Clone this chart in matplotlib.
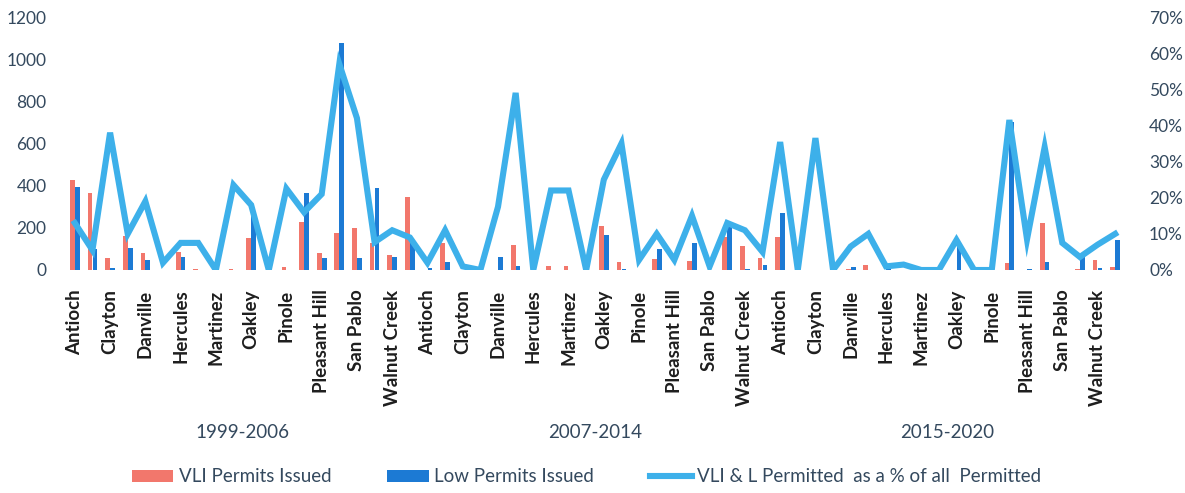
import numpy as np
import matplotlib
matplotlib.use("Agg")
import matplotlib.pyplot as plt
import matplotlib.transforms as mtransforms
from matplotlib.patches import Patch
from matplotlib.lines import Line2D

plt.rcParams['font.family'] = ['Lato', 'DejaVu Sans']

cities = ["Antioch", "Brentwood", "Clayton", "Concord", "Danville", "El Cerrito",
          "Hercules", "Lafayette", "Martinez", "Moraga", "Oakley", "Orinda",
          "Pinole", "Pittsburg", "Pleasant Hill", "Richmond", "San Pablo",
          "San Ramon", "Walnut Creek", "Unincorporated"]
periods = ["1999-2006", "2007-2014", "2015-2020"]

vli_1999 = [427, 365, 57, 161, 80, 0, 85, 5, 0, 5, 152, 0, 15, 228, 80, 175, 200, 128, 71, 346]
low_1999 = [394, 100, 8, 104, 47, 0, 62, 0, 0, 0, 270, 0, 0, 365, 57, 1077, 57, 389, 62, 130]
pct_1999 = [13, 5.5, 38, 10, 19, 2, 7.5, 7.5, 0, 23.5, 18, 0, 22.5, 16, 21, 57, 42, 7.7, 11, 9]

vli_2007 = [0, 128, 0, 0, 0, 119, 0, 18, 18, 0, 211, 38, 0, 52, 0, 43, 0, 155, 114, 55]
low_2007 = [8, 38, 0, 0, 62, 18, 0, 0, 0, 0, 166, 5, 0, 100, 0, 128, 0, 204, 5, 24]
pct_2007 = [2, 11, 1, 0, 17.5, 49, 0, 22, 22, 0, 25, 35, 2.8, 10, 2.8, 15, 1, 13, 11, 5]

vli_2015 = [157, 0, 0, 0, 5, 25, 0, 0, 0, 0, 0, 0, 0, 35, 0, 223, 0, 5, 47, 16]
low_2015 = [270, 0, 0, 0, 15, 0, 5, 0, 0, 0, 120, 0, 0, 700, 5, 38, 0, 65, 10, 142]
pct_2015 = [35.4, 0, 36.5, 0, 6.5, 10, 1, 1.5, 0, 0, 8.3, 0, 0, 41.5, 8.5, 34, 7.5, 3.6, 7, 10]

vli = vli_1999 + vli_2007 + vli_2015
low = low_1999 + low_2007 + low_2015
pct = [p / 100 for p in pct_1999 + pct_2007 + pct_2015]
labels = cities * len(periods)

RED = '#F2776C'
BLUE = '#1C7AD4'
LINE = '#3DB0EA'
TXT = '#34495E'

fig = plt.figure(figsize=(11.85, 4.93), dpi=100)
ax = fig.add_axes([66 / 1185, 1 - 270 / 493, (1124 - 66) / 1185, (270 - 17) / 493])
ax2 = ax.twinx()

x = np.arange(len(labels))
w = 0.27
ax.bar(x - 0.14, vli, width=w, color=RED, zorder=2)
ax.bar(x + 0.14, low, width=w, color=BLUE, zorder=2)
ax2.plot(x, pct, color=LINE, lw=4.4, solid_joinstyle='miter', zorder=3)

ax.set_xlim(-0.5, len(labels) - 0.5)
ax.set_ylim(0, 1200)
ax.set_yticks(np.arange(0, 1201, 200))
ax2.set_ylim(0, 0.7)
ax2.set_yticks(np.arange(0, 0.71, 0.1))
ax2.set_yticklabels([f"{int(round(v * 100))}%" for v in np.arange(0, 0.71, 0.1)])

ax.set_xticks(x[::2])
ax.set_xticklabels(labels[::2], rotation=90, fontsize=13.5, fontweight='bold', color='#1e1e1e')

for a in (ax, ax2):
    for s in a.spines.values():
        s.set_visible(False)
ax.tick_params(axis='x', length=0, pad=14)
ax.tick_params(axis='y', length=0, pad=14, labelsize=12.5, labelcolor=TXT)
ax2.tick_params(axis='y', length=0, pad=18, labelsize=12.5, labelcolor=TXT)

n = len(cities)
tr = mtransforms.blended_transform_factory(ax.transData, fig.transFigure)
for i, p in enumerate(periods):
    cx = i * n + (n - 1) / 2
    ax.text(cx, 1 - 433 / 493, p, transform=tr, ha='center', va='center',
            fontsize=13.5, color=TXT)

handles = [Patch(facecolor=RED, edgecolor='none'),
           Patch(facecolor=BLUE, edgecolor='none'),
           Line2D([0], [0], color=LINE, lw=4.4)]
names = ["VLI Permits Issued", "Low Permits Issued", "VLI & L Permitted  as a % of all  Permitted"]
fig.legend(handles, names, loc='center', bbox_to_anchor=(0.495, 1 - 477 / 493), ncol=3,
           frameon=False, fontsize=13.5, handlelength=2.2, handleheight=0.6,
           columnspacing=3.0, handletextpad=0.3, labelcolor=TXT)

fig.savefig("out.png", dpi=100)
